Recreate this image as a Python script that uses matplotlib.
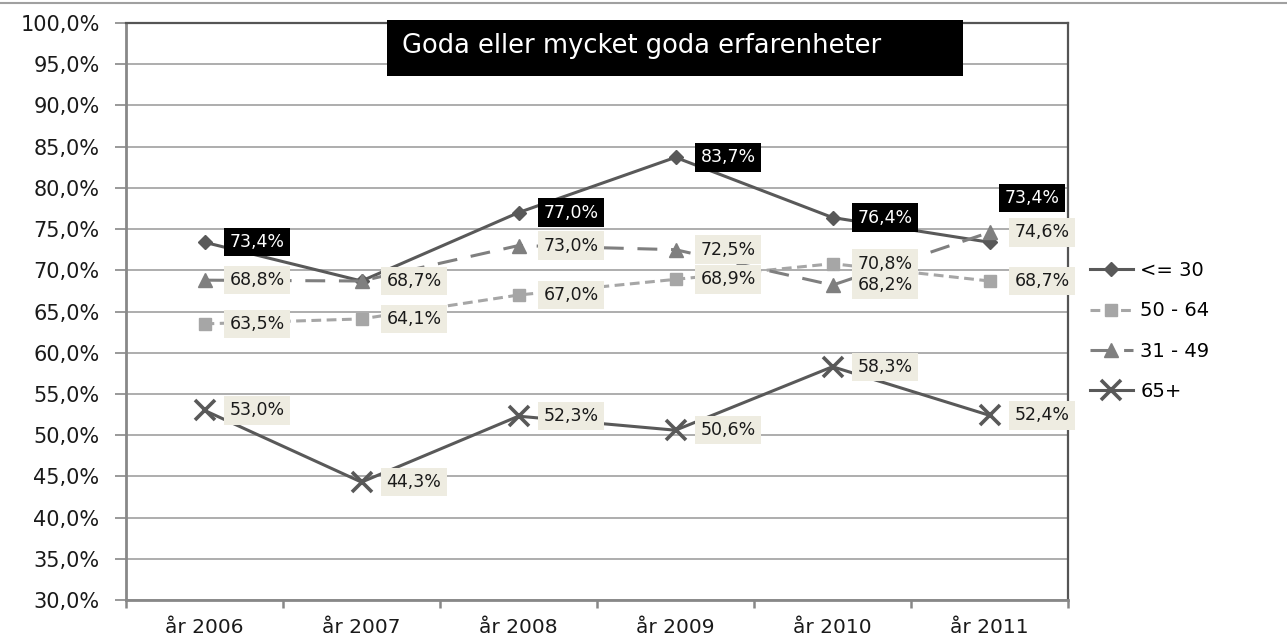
import matplotlib

matplotlib.use("Agg")
import matplotlib.pyplot as plt
from matplotlib.lines import Line2D
from matplotlib.patches import Rectangle
from matplotlib.ticker import FixedLocator, FuncFormatter

plt.rcParams["font.family"] = ["DejaVu Sans"]

YEARS = ["år 2006", "år 2007", "år 2008", "år 2009", "år 2010", "år 2011"]
SERIES_NAMES = ["<= 30", "50 - 64", "31 - 49", "65+"]
UP_TO_30 = [73.4, 68.7, 77.0, 83.7, 76.4, 73.4]
AGE_50_64 = [63.5, 64.1, 67.0, 68.9, 70.8, 68.7]
AGE_31_49 = [68.8, 68.7, 73.0, 72.5, 68.2, 74.6]
AGE_65_PLUS = [53.0, 44.3, 52.3, 50.6, 58.3, 52.4]
TITLE = "Goda eller mycket goda erfarenheter"

W, H = 1287, 640
DARK = "#595959"
MID = "#7f7f7f"
LIGHT = "#a6a6a6"
BEIGE = "#eeece1"


def pct(v, _pos=None):
    return f"{v:.1f}%".replace(".", ",")


fig = plt.figure(figsize=(W / 100, H / 100), dpi=100)
ax = fig.add_axes([126 / W, 1 - 600 / H, (1068 - 126) / W, (600 - 23) / H])

x = list(range(len(YEARS)))
styles = [
    dict(values=UP_TO_30, color=DARK, marker="D", ms=7, ls="-", dashes=None),
    dict(values=AGE_50_64, color=LIGHT, marker="s", ms=8.5, ls="--", dashes=(3.2, 1.8)),
    dict(values=AGE_31_49, color=MID, marker="^", ms=9.5, ls="--", dashes=(6.5, 4.5)),
    dict(values=AGE_65_PLUS, color=DARK, marker="x", ms=14, ls="-", dashes=None),
]
handles = []
for name, st in zip(SERIES_NAMES, styles):
    kw = dict(color=st["color"], lw=2.2, marker=st["marker"], ms=st["ms"],
              markerfacecolor=st["color"], markeredgecolor=st["color"], label=name,
              zorder=3)
    if st["marker"] == "x":
        kw["mew"] = 2.6
    (line,) = ax.plot(x, st["values"], ls=st["ls"], **kw)
    if st["dashes"]:
        line.set_dashes(st["dashes"])
    handles.append(line)

# data labels
label_offsets = {("<= 30", 5): (15, 44)}
label_style = {
    "<= 30": dict(fc="black", tc="white"),
    "50 - 64": dict(fc=BEIGE, tc="#1a1a1a"),
    "31 - 49": dict(fc=BEIGE, tc="#1a1a1a"),
    "65+": dict(fc=BEIGE, tc="#1a1a1a"),
}
for order, (name, st) in enumerate(zip(SERIES_NAMES, styles)):
    for i, v in enumerate(st["values"]):
        dx, dy = label_offsets.get((name, i), (25, 0))
        ax.annotate(pct(v), (i, v), xytext=(dx, dy), textcoords="offset pixels",
                    ha="left", va="center", fontsize=12.5, color=label_style[name]["tc"],
                    bbox=dict(boxstyle="square,pad=0.3", fc=label_style[name]["fc"], ec="none"),
                    annotation_clip=False, zorder=5 + order)

ax.set_xlim(-0.5, len(YEARS) - 0.5)
ax.set_ylim(30, 100)
ax.yaxis.set_major_locator(FixedLocator([30 + 5 * k for k in range(15)]))
ax.yaxis.set_major_formatter(FuncFormatter(pct))
ax.set_xticks(x)
ax.set_xticklabels(YEARS)
ax.set_xticks([k - 0.5 for k in range(len(YEARS) + 1)], minor=True)
ax.tick_params(axis="x", which="major", length=0, pad=13, labelsize=14.5, colors="#1a1a1a")
ax.tick_params(axis="x", which="minor", length=6, width=1.8, color="#888888", direction="out")
ax.tick_params(axis="y", length=8, width=1.2, color="#888888", labelsize=15,
               labelcolor="#1a1a1a", pad=11)
ax.grid(axis="y", color="#a0a0a0", lw=1.2, zorder=0)
ax.set_axisbelow(True)
for side in ("left", "bottom"):
    ax.spines[side].set_color("#888888")
    ax.spines[side].set_linewidth(2)
for side in ("top", "right"):
    ax.spines[side].set_color("#555555")
    ax.spines[side].set_linewidth(1.6)

# title box
fig.add_artist(Rectangle((387 / W, 1 - 76 / H), 576 / W, 56 / H,
                         transform=fig.transFigure, fc="black", ec="none", zorder=10))
fig.text(402 / W, 1 - 46 / H, TITLE, color="white", fontsize=18.5, ha="left", va="center",
         zorder=11)

# thin line across the top of the figure
fig.add_artist(Line2D([0, 1], [1 - 3 / H, 1 - 3 / H], transform=fig.transFigure,
                      color="#a0a0a0", lw=1.5))

fig.legend(handles=handles, loc="center left", bbox_to_anchor=(1082 / W, 1 - 331 / H),
           frameon=False, fontsize=14, handlelength=2.2, labelspacing=1.1,
           handletextpad=0.4, borderaxespad=0)

fig.savefig("out.png", dpi=100)
